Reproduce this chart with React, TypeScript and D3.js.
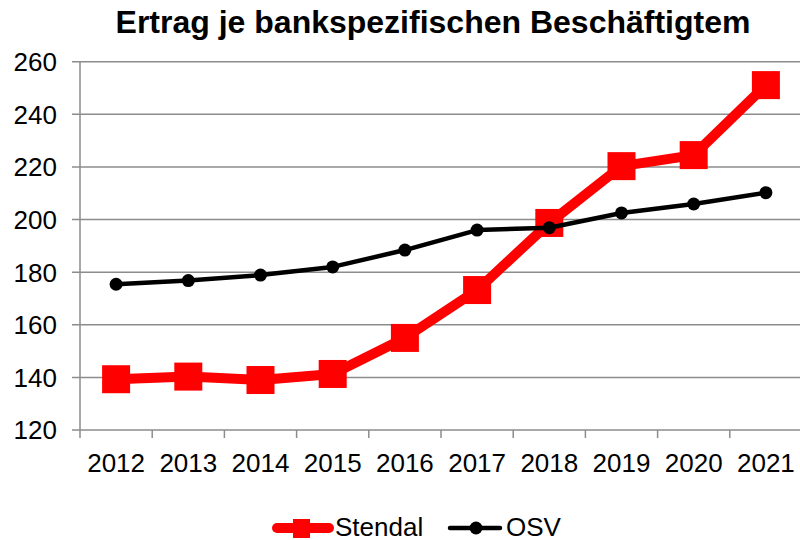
import React from "react";
import * as d3 from "d3";

const years = ["2012","2013","2014","2015","2016","2017","2018","2019","2020","2021"];
const stendal = [139.3, 140.3, 139.0, 141.3, 155.0, 173.2, 198.7, 220.3, 224.5, 251.1];
const osv = [175.4, 176.8, 178.9, 182.0, 188.4, 196.0, 196.9, 202.5, 205.9, 210.2];
const yTicks = [120, 140, 160, 180, 200, 220, 240, 260];

export default function App() {
  const W = 800, H = 540;
  const left = 80, right = 802, top = 61.7, bottom = 430;
  const x = d3.scaleBand<string>().domain(years).range([left, right]);
  const y = d3.scaleLinear().domain([120, 260]).range([bottom, top]);
  const cx = (d: string) => (x(d) as number) + x.bandwidth() / 2;
  const line = d3.line<number>().x((_, i) => cx(years[i])).y(v => y(v));
  const font = "Liberation Sans, Arial, sans-serif";
  return (
    <svg width={W} height={H} style={{ position: "absolute", left: 0, top: 0, background: "#fff" }} fontFamily={font}>
      <text x={433} y={33} textAnchor="middle" fontSize={32} fontWeight="bold">Ertrag je bankspezifischen Beschäftigtem</text>
      {yTicks.map(t => (
        <g key={t}>
          <line x1={left - 8} x2={800} y1={y(t)} y2={y(t)} stroke="#8c8c8c" strokeWidth={1.5} />
          <text x={57} y={y(t) + 9.4} textAnchor="end" fontSize={26}>{t}</text>
        </g>
      ))}
      <line x1={left} x2={left} y1={top} y2={bottom + 8} stroke="#8c8c8c" strokeWidth={1.5} />
      {years.map((yr, i) => (
        <g key={yr}>
          {i > 0 && <line x1={x(yr)} x2={x(yr)} y1={bottom} y2={bottom + 8} stroke="#8c8c8c" strokeWidth={1.5} />}
          <text x={cx(yr)} y={471.5} textAnchor="middle" fontSize={26}>{yr}</text>
        </g>
      ))}
      <path d={line(stendal) || ""} fill="none" stroke="#ff0000" strokeWidth={10} strokeLinejoin="round" />
      {stendal.map((v, i) => (
        <rect key={i} x={cx(years[i]) - 14} y={y(v) - 14} width={28} height={28} fill="#ff0000" />
      ))}
      <path d={line(osv) || ""} fill="none" stroke="#000" strokeWidth={4.5} strokeLinejoin="round" />
      {osv.map((v, i) => (
        <circle key={i} cx={cx(years[i])} cy={y(v)} r={6.5} fill="#000" />
      ))}
      <g>
        <line x1={277} x2={329} y1={528} y2={528} stroke="#ff0000" strokeWidth={10} strokeLinecap="round" />
        <rect x={293} y={519} width={17} height={19} fill="#ff0000" />
        <text x={335} y={535.5} fontSize={26}>Stendal</text>
        <line x1={450} x2={500} y1={528} y2={528} stroke="#000" strokeWidth={4.5} strokeLinecap="round" />
        <circle cx={476} cy={528} r={6.5} fill="#000" />
        <text x={506} y={535.5} fontSize={26}>OSV</text>
      </g>
    </svg>
  );
}
